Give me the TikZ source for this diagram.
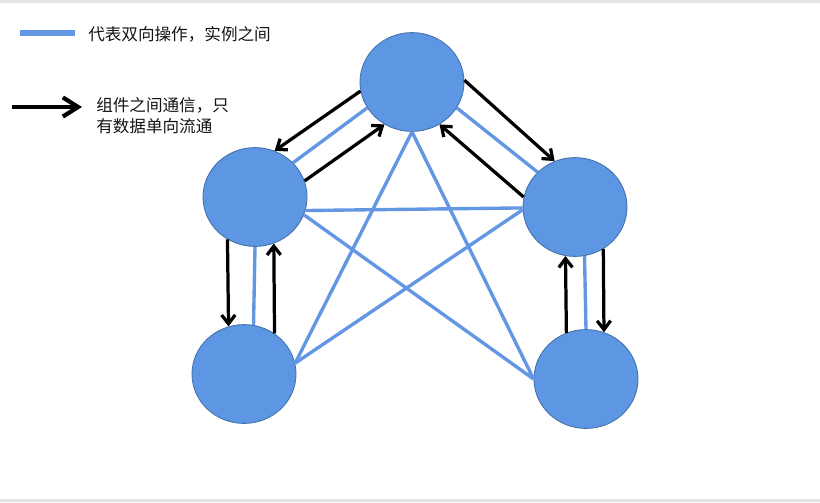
\documentclass[tikz,border=0pt]{standalone}
\usepackage{fontspec}
\newfontfamily\cjk{Noto Sans CJK SC}
\usetikzlibrary{shapes.geometric,arrows.meta}
\definecolor{instblue}{RGB}{93,150,226}
\definecolor{rimblue}{RGB}{66,112,170}
\definecolor{linkblue}{RGB}{99,151,227}
\definecolor{edgegray}{RGB}{228,228,228}
\definecolor{textgray}{RGB}{20,20,20}

\begin{document}
\begin{tikzpicture}[x=0.025cm,y=-0.025cm]
				\tikzstyle{inst}=[ellipse,draw=rimblue,fill=instblue,line width=0.6pt,
				minimum width=2.6cm,minimum height=2.47cm,inner sep=0pt]
				\tikzstyle{link}=[draw=linkblue,line width=2.4pt]
				\tikzstyle{flow}=[draw=black,line width=2.3pt,
				-{Straight Barb[length=2.2mm,width=3.4mm]}]
				\tikzstyle{note}=[anchor=west,align=left,inner sep=0pt,text=textgray,
				font=\cjk\fontsize{11.8}{15}\selectfont]
				\useasboundingbox (0,0) rectangle (820,502);
				\fill[edgegray] (0,0) rectangle (820,2.5);
				\fill[edgegray] (0,498.5) rectangle (820,502);
				\node[inst] (top) at (412,82) {};
				\node[inst] (left) at (255,197) {};
				\node[inst] (right) at (575,207) {};
				\node[inst] (botleft) at (244,374) {};
				\node[inst] (botright) at (586,379) {};
				\draw[link] (top.210) -- (left.42);
				\draw[link] (top.330) -- (right.137);
				\draw[link] (left.345) -- (right.181);
				\draw[link] (top.south) -- (botleft.12);
				\draw[link] (top.south) -- (botright.180);
				\draw[link] (left.340) -- (botright.180);
				\draw[link] (right.183) -- (botleft.12);
				\draw[link] (left.south) -- (botleft.79);
				\draw[link] (right.281) -- (botright.north);
				\draw[flow] (top.190) -- (left.67);
				\draw[flow] (left.18) -- (top.237);
				\draw[flow] (top.2) -- (right.114);
				\draw[flow] (right.169) -- (top.303);
				\draw[flow] (left.237) -- (botleft.108);
				\draw[flow] (botleft.53) -- (left.292);
				\draw[flow] (botright.113) -- (right.259);
				\draw[flow] (right.304) -- (botright.69);
				\coordinate (keyA) at (20,33);
				\coordinate (keyB) at (75,33);
				\coordinate (keyC) at (12,107);
				\coordinate (keyD) at (82,107);
				\draw[linkblue,line width=3.6pt] (keyA) -- (keyB);
				\draw[black,line width=3pt,-{Straight Barb[length=3.8mm,width=4.8mm]}] (keyC) -- (keyD);
				\node[note] (bothways) at (88,34) {代表双向操作，实例之间};
				\node[note] (oneway) at (96,116) {组件之间通信，只\\有数据单向流通};
\end{tikzpicture}
\end{document}
